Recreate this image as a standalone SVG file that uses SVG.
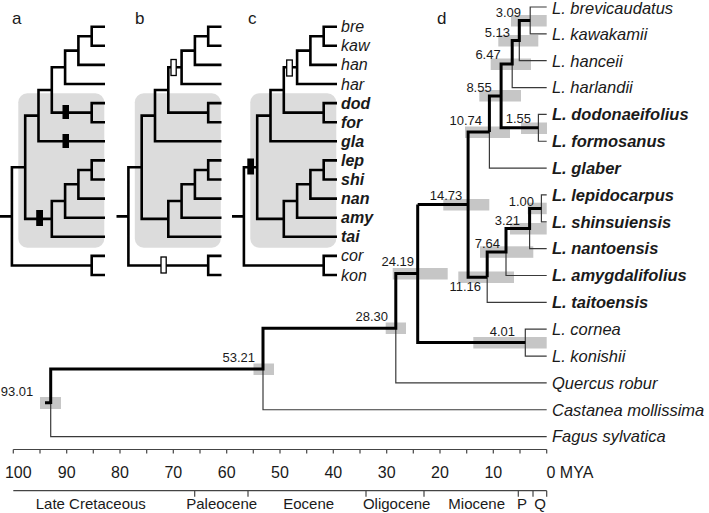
<svg xmlns="http://www.w3.org/2000/svg" xmlns:xlink="http://www.w3.org/1999/xlink" width="709" height="513" viewBox="0 0 709 513">
<style>
text{font-family:"Liberation Sans",Arial,sans-serif;fill:#1a1a1a}
.pl{font-size:17px}
.tl{font-size:16px;font-style:italic}
.tb{font-size:16px;font-style:italic;font-weight:bold}
.sp{font-size:16.5px;font-style:italic}
.spb{font-size:16.5px;font-style:italic;font-weight:bold}
.nl{font-size:13px;text-anchor:end}
.ax{font-size:16px;text-anchor:middle}
.ep{font-size:15px;text-anchor:middle}
.clad{fill:none;stroke:#000;stroke-width:2.6}
.thick{fill:none;stroke:#000;stroke-width:3}
.thin{fill:none;stroke:#3a3a3a;stroke-width:1.2}
.hpd{fill:#c6c6c6}
.box{fill:#dcdcdc}
.solid{fill:#000}
.open{fill:#fff;stroke:#000;stroke-width:1.3}
.axl{fill:none;stroke:#444;stroke-width:1.2}
</style>
<defs>
<g id="cladeTree">
<rect class="box" x="18.3" y="93.3" width="86" height="154.4" rx="9"/>
<path class="clad" d="M0,216.36 H11.9 M25.2,167.26 H11.9 V265.45 H91.7 M38.5,115.63 H25.2 V218.89 H51.8 M51.8,89.97 H38.5 V141.3 H105 M65.1,67.29 H51.8 V112.65 H91.7 M78.4,50.58 H65.1 V84 H105 M91.7,36.25 H78.4 V64.9 H105 M105,26.7 H91.7 V45.8 H105 M105,103.1 H91.7 V122.2 H105 M65.1,200.99 H51.8 V236.8 H105 M78.4,184.28 H65.1 V217.7 H105 M91.7,169.95 H78.4 V198.6 H105 M105,160.4 H91.7 V179.5 H105 M105,255.9 H91.7 V275 H105"/>
</g>
</defs>

<g id="panel-a">
<text class="pl" x="12" y="23.5">a</text>
<use xlink:href="#cladeTree"/>
<rect class="solid" x="62.5" y="105" width="6.5" height="14"/>
<rect class="solid" x="62.5" y="134" width="6.5" height="14"/>
<rect class="solid" x="36.2" y="210" width="6.8" height="16"/>
</g>

<g id="panel-b">
<text class="pl" x="135" y="23.5">b</text>
<use xlink:href="#cladeTree" transform="translate(116.5,0)"/>
<rect class="open" x="171" y="59.5" width="5.2" height="16"/>
<rect class="open" x="161" y="257" width="5.2" height="16"/>
</g>

<g id="panel-c">
<text class="pl" x="248" y="23.5">c</text>
<use xlink:href="#cladeTree" transform="translate(232,0)"/>
<rect class="open" x="286.7" y="60" width="5.6" height="16"/>
<rect class="solid" x="247.3" y="158.5" width="6.7" height="16"/>
<g id="panel-c-labels">
<text class="tl" x="341" y="32.2">bre</text>
<text class="tl" x="341" y="51.3">kaw</text>
<text class="tl" x="341" y="70.4">han</text>
<text class="tl" x="341" y="89.5">har</text>
<text class="tb" x="341" y="108.6">dod</text>
<text class="tb" x="341" y="127.7">for</text>
<text class="tb" x="341" y="146.8">gla</text>
<text class="tb" x="341" y="165.9">lep</text>
<text class="tb" x="341" y="185">shi</text>
<text class="tb" x="341" y="204.1">nan</text>
<text class="tb" x="341" y="223.2">amy</text>
<text class="tb" x="341" y="242.3">tai</text>
<text class="tl" x="341" y="261.4">cor</text>
<text class="tl" x="341" y="280.5">kon</text>
</g>
</g>

<g id="panel-d">
<text class="pl" x="437" y="23.5">d</text>
<g id="hpd-bars">
<rect class="hpd" x="40" y="397" width="21" height="12"/>
<rect class="hpd" x="253.5" y="363.5" width="20.5" height="11.5"/>
<rect class="hpd" x="385.7" y="322.5" width="20.3" height="11.5"/>
<rect class="hpd" x="392.7" y="268" width="55" height="11.5"/>
<rect class="hpd" x="443.3" y="199" width="46" height="11.5"/>
<rect class="hpd" x="465" y="126.5" width="45" height="11.5"/>
<rect class="hpd" x="479.3" y="90" width="41.7" height="11.5"/>
<rect class="hpd" x="490.7" y="58.5" width="40.3" height="11.5"/>
<rect class="hpd" x="498.3" y="35" width="40" height="11.5"/>
<rect class="hpd" x="511" y="15" width="35.7" height="11.5"/>
<rect class="hpd" x="521" y="122.5" width="26" height="11.5"/>
<rect class="hpd" x="527.7" y="202.7" width="19" height="11.5"/>
<rect class="hpd" x="510" y="223" width="36.7" height="11.5"/>
<rect class="hpd" x="480" y="246.3" width="53.3" height="11.5"/>
<rect class="hpd" x="458.3" y="271.5" width="55.7" height="11.5"/>
<rect class="hpd" x="473.3" y="337" width="73.4" height="11.5"/>
</g>
<g id="connectors">
<path class="thin" d="M50.7,402.8 V436.6 H546.7 M263,369 V409.75 H546.7 M395.8,328.25 V382.9 H546.7 M546.7,329.2 H525.3 V356.05 H546.7 M546.7,7 H530.2 V33.85 H546.7 M519.3,40.6 V60.7 H546.7 M512.2,64.1 V87.55 H546.7 M546.7,114.4 H538.4 V141.25 H546.7 M489.4,132.05 V168.1 H546.7 M546.7,194.95 H541.4 V221.8 H546.7 M529.6,228.5 V248.65 H546.7 M506,252 V275.5 H546.7 M487.2,277.2 V302.35 H546.7"/>
<path class="thick" d="M45,402.8 H50.7 M50.7,404 V369 H263 V328.25 H395.8 V273.6 H417.7 M417.7,204.6 V342.6 H525.3 M417.7,204.6 H468.1 M489.4,132.05 H468.1 V277.2 H487.2 M538.4,127.8 H501.1 V96 H489.4 V132.05 M501.1,96 V64.1 H512.2 V40.6 H519.3 V20.4 H530.2 M487.2,277.2 V252 H506 V228.5 H529.6 V208.4 H541.4"/>
</g>
<g id="node-ages">
<text class="nl" x="33.3" y="396.4">93.01</text>
<text class="nl" x="255" y="362">53.21</text>
<text class="nl" x="388" y="321.4">28.30</text>
<text class="nl" x="414" y="266.4">24.19</text>
<text class="nl" x="462.3" y="199.7">14.73</text>
<text class="nl" x="482" y="124.7">10.74</text>
<text class="nl" x="491.7" y="92">8.55</text>
<text class="nl" x="500.7" y="58.7">6.47</text>
<text class="nl" x="510" y="37">5.13</text>
<text class="nl" x="521" y="17">3.09</text>
<text class="nl" x="531" y="123">1.55</text>
<text class="nl" x="534" y="206.4">1.00</text>
<text class="nl" x="520" y="224.7">3.21</text>
<text class="nl" x="500" y="248">7.64</text>
<text class="nl" x="481" y="291.4">11.16</text>
<text class="nl" x="515" y="336.4">4.01</text>
</g>
<g id="taxa">
<text class="sp" x="552" y="13.6">L. brevicaudatus</text>
<text class="sp" x="552" y="39.6">L. kawakamii</text>
<text class="sp" x="552" y="66.5">L. hanceii</text>
<text class="sp" x="552" y="93.3">L. harlandii</text>
<text class="spb" x="552" y="120.2">L. dodonaeifolius</text>
<text class="spb" x="552" y="147">L. formosanus</text>
<text class="spb" x="552" y="173.9">L. glaber</text>
<text class="spb" x="552" y="200.7">L. lepidocarpus</text>
<text class="spb" x="552" y="227.6">L. shinsuiensis</text>
<text class="spb" x="552" y="254.4">L. nantoensis</text>
<text class="spb" x="552" y="281.3">L. amygdalifolius</text>
<text class="spb" x="552" y="308.1">L. taitoensis</text>
<text class="sp" x="552" y="335">L. cornea</text>
<text class="sp" x="552" y="361.8">L. konishii</text>
<text class="sp" x="552" y="388.7">Quercus robur</text>
<text class="sp" x="552" y="415.5">Castanea mollissima</text>
<text class="sp" x="552" y="442.4">Fagus sylvatica</text>
</g>
</g>

<g id="time-axis">
<path class="axl" d="M13.3,449.5 H546.7 M13.3,449.5 v4 M40,449.5 v4 M66.7,449.5 v4 M93.3,449.5 v4 M120,449.5 v4 M146.7,449.5 v4 M173.3,449.5 v4 M200,449.5 v4 M226.7,449.5 v4 M253.3,449.5 v4 M280,449.5 v4 M306.7,449.5 v4 M333.3,449.5 v4 M360,449.5 v4 M386.7,449.5 v4 M413.3,449.5 v4 M440,449.5 v4 M466.7,449.5 v4 M493.3,449.5 v4 M520,449.5 v4 M546.7,449.5 v4"/>
<text class="ax" x="18.3" y="477.5">100</text>
<text class="ax" x="66.7" y="477.5">90</text>
<text class="ax" x="120" y="477.5">80</text>
<text class="ax" x="173.3" y="477.5">70</text>
<text class="ax" x="226.7" y="477.5">60</text>
<text class="ax" x="280" y="477.5">50</text>
<text class="ax" x="333.3" y="477.5">40</text>
<text class="ax" x="386.7" y="477.5">30</text>
<text class="ax" x="440" y="477.5">20</text>
<text class="ax" x="493.3" y="477.5">10</text>
<text style="font-size:16px" x="546.5" y="477.5">0 MYA</text>
</g>
<g id="epoch-axis">
<path class="axl" d="M13.3,490.7 H546.7 M194.7,490.7 v6 M248,490.7 v6 M366,490.7 v6 M424,490.7 v6 M518.3,490.7 v6 M533,490.7 v6 M546.7,490.7 v6"/>
<text class="ep" x="90.8" y="508.5">Late Cretaceous</text>
<text class="ep" x="221.7" y="508.5">Paleocene</text>
<text class="ep" x="308.7" y="508.5">Eocene</text>
<text class="ep" x="396.7" y="508.5">Oligocene</text>
<text class="ep" x="476.7" y="508.5">Miocene</text>
<text class="ep" x="522" y="508.5">P</text>
<text class="ep" x="540" y="508.5">Q</text>
</g>
</svg>
